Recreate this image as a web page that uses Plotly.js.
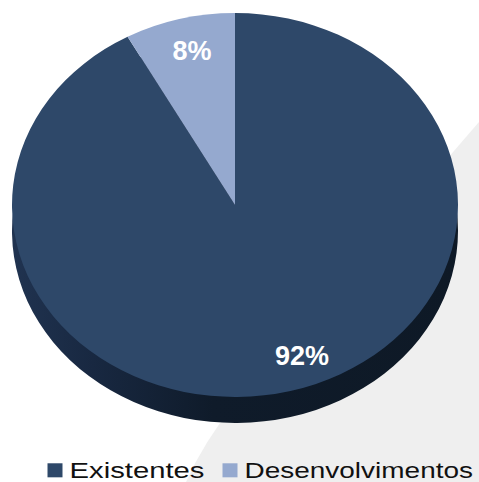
<!DOCTYPE html>
<html>
<head>
<meta charset="utf-8">
<script src="https://cdn.plot.ly/plotly-3.0.1.min.js"></script>
<style>
html,body{margin:0;padding:0;background:#fff;}
#chart{width:479px;height:482px;}
</style>
</head>
<body>
<div id="chart"></div>
<script>
// ---- data ----
const categories = ["Existentes", "Desenvolvimentos"];
const values = [92, 8];

// ---- styling ----
const sliceColors = ["#2e4869", "#95a9cf"];
const sideColors = ["#121f31", "#121f31"];
const FONT = "Liberation Sans, Arial, sans-serif";
const SQUASH = 192 / 223;   // ellipse ratio of the tilted pie
const TOP_CY = 205;         // centre of the top face (px)
const DEPTH = 26;           // thickness of the pie edge (px)
const LABEL_SPOTS = [[302, 355], [192, 50]];      // where the % labels sit
const LEGEND_SYMBOL_X = [55, 230];
const LEGEND_TEXT_X = [69.5, 244.5];
const LEGEND_STRETCH = [1.33, 1.272];
const LEGEND_Y = 470.3;

const side = {
  type: "pie",
  labels: categories,
  values: values,
  sort: false,
  direction: "clockwise",
  rotation: 0,
  marker: {colors: sideColors, line: {width: 0}},
  textinfo: "none",
  hoverinfo: "skip",
  showlegend: false,
  domain: {x: [12/479, 458/479], y: [0, 1]}
};

const top_ = {
  type: "pie",
  labels: categories,
  values: values,
  sort: false,
  direction: "clockwise",
  rotation: 0,
  marker: {colors: sliceColors, line: {width: 0}},
  textinfo: "percent",
  textposition: "inside",
  insidetextfont: {family: FONT, size: 27, color: "#ffffff", weight: "bold"},
  hoverinfo: "label+percent",
  domain: {x: [12/479, 458/479], y: [0, 1]}
};

const P = (x, y) => (x / 479).toFixed(4) + "," + (1 - y / 482).toFixed(4);

const layout = {
  width: 479,
  height: 482,
  margin: {l: 0, r: 0, t: 0, b: 0},
  paper_bgcolor: "#ffffff",
  font: {family: FONT, color: "#000000"},
  showlegend: true,
  legend: {
    orientation: "h",
    x: 0.08, xanchor: "left",
    y: 0, yanchor: "bottom",
    font: {family: FONT, size: 22, color: "#111111"},
    bgcolor: "rgba(0,0,0,0)",
    itemclick: false, itemdoubleclick: false
  },
  shapes: [{
    type: "path", xref: "paper", yref: "paper", layer: "below",
    path: "M " + P(479, 122) + " L " + P(232, 408) + " Q " + P(205, 440) + " " + P(186, 482) +
          " L " + P(479, 482) + " Z",
    fillcolor: "#efefef", line: {width: 0}
  }]
};

function retarget(el, tx, ty, kx, ky, anchor) {
  const svg = el.ownerSVGElement;
  const sR = svg.getBoundingClientRect();
  const r = el.getBoundingClientRect();
  const ax = (anchor === "left" ? r.left : r.left + r.width / 2) - sR.left;
  const ay = r.top + r.height / 2 - sR.top;
  const inv = el.parentNode.getCTM().inverse();
  const p = svg.createSVGPoint();
  p.x = ax; p.y = ay;
  const a = p.matrixTransform(inv);
  p.x = tx; p.y = ty;
  const b = p.matrixTransform(inv);
  const old = el.getAttribute("transform") || "";
  el.setAttribute("transform",
    "translate(" + b.x + "," + b.y + ") scale(" + kx + "," + ky + ") translate(" + (-a.x) + "," + (-a.y) + ") " + old);
}

const gd = document.getElementById("chart");
Plotly.newPlot(gd, [side, top_], layout, {displayModeBar: false, staticPlot: true}).then(function () {
  const sz = gd._fullLayout._size;
  const cyPlot = sz.t + sz.h * 0.5;
  const svg = gd.querySelector(".main-svg");

  // gradient for the edge of the pie
  const NS = "http://www.w3.org/2000/svg";
  let defs = svg.querySelector("defs");
  if (!defs) { defs = document.createElementNS(NS, "defs"); svg.insertBefore(defs, svg.firstChild); }
  const grad = document.createElementNS(NS, "linearGradient");
  grad.setAttribute("id", "pieSideGrad");
  grad.setAttribute("gradientUnits", "userSpaceOnUse");
  grad.setAttribute("x1", "12"); grad.setAttribute("x2", "458");
  grad.setAttribute("y1", "0"); grad.setAttribute("y2", "0");
  [["0", "#203350"], ["0.18", "#182841"], ["0.45", "#0f1b2a"], ["1", "#0e1926"]].forEach(function (s) {
    const st = document.createElementNS(NS, "stop");
    st.setAttribute("offset", s[0]); st.setAttribute("stop-color", s[1]);
    grad.appendChild(st);
  });
  defs.appendChild(grad);

  const traces = gd.querySelectorAll(".pielayer .trace");
  const place = function (tr, cyTarget) {
    const old = tr.getAttribute("transform") || "";
    tr.setAttribute("transform",
      "translate(0," + cyTarget + ") scale(1," + SQUASH + ") translate(0," + (-cyPlot) + ") " + old);
  };
  if (traces.length === 2) {
    traces[0].querySelectorAll("path.surface").forEach(function (p) { p.style.fill = "url(#pieSideGrad)"; });
    place(traces[0], TOP_CY + DEPTH);
    place(traces[1], TOP_CY);
    traces[1].querySelectorAll("g.slice").forEach(function (s, i) {
      const t = s.querySelector("text.slicetext");
      if (t && LABEL_SPOTS[i]) retarget(t, LABEL_SPOTS[i][0], LABEL_SPOTS[i][1], 1, 1 / SQUASH, "center");
    });
  }

  // legend: wider lettering like the original, bigger swatches
  gd.querySelectorAll(".legend [clip-path]").forEach(function (e) { e.removeAttribute("clip-path"); });
  gd.querySelectorAll(".legend .traces").forEach(function (item, i) {
    const sym = item.querySelector(".legendpoints path");
    const txt = item.querySelector("text.legendtext");
    if (sym) retarget(sym, LEGEND_SYMBOL_X[i], LEGEND_Y, 1.25, 1.17, "center");
    if (txt) retarget(txt, LEGEND_TEXT_X[i], LEGEND_Y + 0.5, LEGEND_STRETCH[i], 1, "left");
  });
});
</script>
</body>
</html>
